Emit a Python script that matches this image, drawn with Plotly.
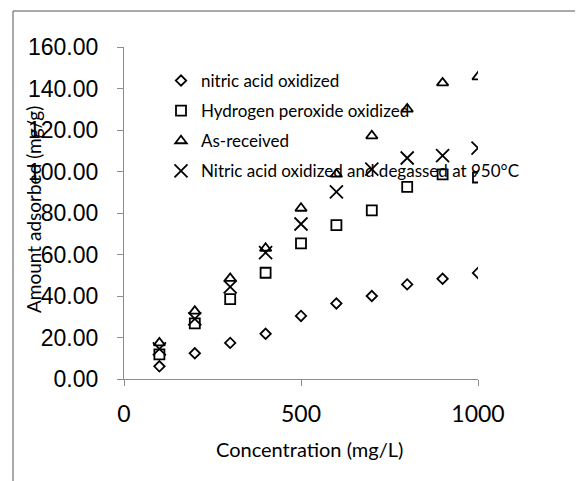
import plotly.graph_objects as go

conc = [100, 200, 300, 400, 500, 600, 700, 800, 900, 1000]
nitric = [6.1, 12.4, 17.4, 21.8, 30.4, 36.4, 40.0, 45.6, 48.3, 51.1]
peroxide = [11.9, 26.8, 38.5, 51.2, 65.4, 74.2, 81.3, 92.6, 98.6, 97.1]
as_received = [17.4, 32.7, 48.5, 63.0, 82.3, 98.7, 117.2, 130.1, 142.7, 145.6]
degassed = [14.5, 29.0, 44.4, 60.9, 74.7, 90.2, 101.1, 106.5, 107.6, 111.3]

names = ["nitric acid oxidized", "Hydrogen peroxide oxidized", "As-received",
         "Nitric acid oxidized and degassed at 950°C"]
y_ticks = [0, 20, 40, 60, 80, 100, 120, 140, 160]
x_ticks = [0, 500, 1000]

O = 8  # page body margin offset
W, H = 583, 481
# target screen geometry of plot area
SX0, SX1, SY0, SY1 = 124, 478, 47, 379
L, T = SX0 - O, SY0 - O
pw, ph = SX1 - SX0, SY1 - SY0
R, B = W - L - pw, H - T - ph


def px(sx):
    return (sx - SX0) / pw


def py(sy):
    return (SY1 - sy) / ph


fig = go.Figure()
styles = [
    dict(symbol="diamond-open", size=8),
    dict(symbol="square-open", size=10),
    dict(symbol="triangle-up-open", size=10),
    dict(symbol="x-thin-open", size=13),
]
for i, (nm, ys, st) in enumerate(zip(names, [nitric, peroxide, as_received, degassed], styles)):
    fig.add_trace(go.Scatter(
        x=conc, y=ys, mode="markers", name=nm, legendgroup=str(i),
        marker=dict(symbol=st["symbol"], size=st["size"], color="black",
                    line=dict(color="black", width=1.8)),
    ))

axis_col = "#8c8c8c"
fig.update_layout(
    width=W, height=H,
    margin=dict(l=L, r=R, t=T, b=B, autoexpand=False),
    paper_bgcolor="white", plot_bgcolor="white",
    showlegend=True,
    legend=dict(x=px(201 - 40), y=py(63), xanchor="left", yanchor="top",
                bgcolor="rgba(0,0,0,0)", font=dict(family="Lato", size=17, color="black"),
                traceorder="grouped", tracegroupgap=5, itemwidth=30),
    xaxis=dict(range=[0, 1000], tickvals=x_ticks, ticktext=[str(v) for v in x_ticks],
               showgrid=False, zeroline=False, showline=True, linecolor=axis_col, linewidth=1.2,
               ticks="outside", ticklen=6, tickcolor=axis_col, tickwidth=1.2,
               tickfont=dict(family="Lato", size=23, color="black"), ticklabelstandoff=8),
    yaxis=dict(range=[0, 160], tickvals=y_ticks, ticktext=[f"{v:.2f}" for v in y_ticks],
               showgrid=False, zeroline=False, showline=True, linecolor=axis_col, linewidth=1.2,
               ticks="outside", ticklen=6, tickcolor=axis_col, tickwidth=1.2,
               tickfont=dict(family="Liberation Sans", size=23, color="black"), ticklabelstandoff=14),
    annotations=[
        dict(text="Concentration (mg/L)", xref="paper", yref="paper",
             x=px(309), y=py(449), showarrow=False,
             xanchor="center", yanchor="middle",
             font=dict(family="Lato", size=20, color="black")),
        dict(text="Amount adsorbed (mg/g)", xref="paper", yref="paper",
             x=px(33), y=py(210), showarrow=False, textangle=-90,
             xanchor="center", yanchor="middle",
             font=dict(family="Lato", size=19, color="black")),
    ],
    shapes=[
        dict(type="line", xref="paper", yref="paper", x0=px(13), x1=px(13),
             y0=py(11), y1=py(H + 20), line=dict(color=axis_col, width=1.5)),
        dict(type="line", xref="paper", yref="paper", x0=px(13), x1=px(W + 20),
             y0=py(11), y1=py(11), line=dict(color=axis_col, width=1.5)),
    ],
)

fig.write_html("out.html")
